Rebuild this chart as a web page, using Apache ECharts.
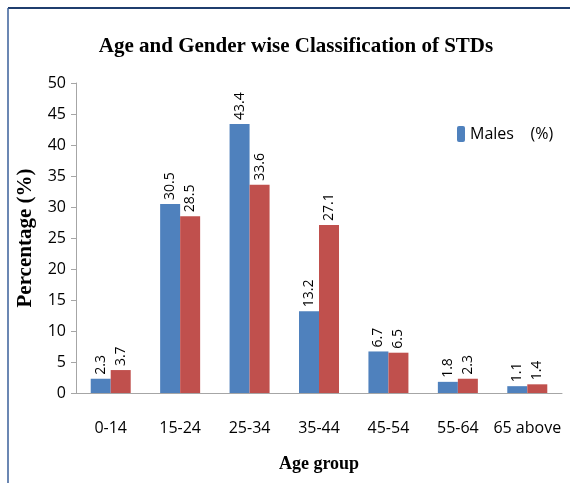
<!DOCTYPE html>
<html>
<head>
<meta charset="utf-8">
<script src="https://cdn.jsdelivr.net/npm/echarts@6/dist/echarts.min.js"></script>
<style>
  html, body { margin: 0; padding: 0; background: #fff; }
  #chart { width: 570px; height: 483px; }
</style>
</head>
<body>
<div id="chart"></div>
<script>
// age groups and percentages
const ageGroups = ['0-14', '15-24', '25-34', '35-44', '45-54', '55-64', '65 above']
const males = [2.3, 30.5, 43.4, 13.2, 6.7, 1.8, 1.1]
const females = [3.7, 28.5, 33.6, 27.1, 6.5, 2.3, 1.4]
const yTicks = { min: 0, max: 50, step: 5 }

const chart = echarts.init(document.getElementById('chart'))

const barLabel = {
  show: true,
  position: 'top',
  distance: 4,
  rotate: 90,
  align: 'left',
  verticalAlign: 'middle',
  color: '#000',
  fontFamily: 'Open Sans',
  fontSize: 14
}

chart.setOption({
  backgroundColor: '#fff',
  animation: false,
  title: {
    text: 'Age and Gender wise Classification of STDs',
    left: 291,
    textAlign: 'center',
    top: 31,
    textStyle: { fontFamily: 'Liberation Serif', fontWeight: 'bold', fontSize: 21, color: '#000' }
  },
  legend: {
    data: ['Males    (%)'],
    left: 452,
    top: 121,
    itemWidth: 8,
    itemHeight: 16,
    itemGap: 4,
    textStyle: { fontFamily: 'Open Sans', fontSize: 16, color: '#000' }
  },
  grid: { left: 76, right: 8, top: 83, bottom: 90 },
  xAxis: {
    type: 'category',
    data: ageGroups,
    name: 'Age group',
    nameLocation: 'middle',
    nameGap: 62,
    nameTextStyle: { fontFamily: 'Liberation Serif', fontWeight: 'bold', fontSize: 18, color: '#000' },
    axisLine: { lineStyle: { color: '#a6a6a6' } },
    axisTick: { show: false },
    axisLabel: { interval: 0, margin: 27, color: '#000', fontFamily: 'Open Sans', fontSize: 16 }
  },
  yAxis: {
    type: 'value',
    min: yTicks.min,
    max: yTicks.max,
    interval: yTicks.step,
    name: 'Percentage (%)',
    nameLocation: 'middle',
    nameRotate: 90,
    nameGap: 40,
    nameTextStyle: { fontFamily: 'Liberation Serif', fontWeight: 'bold', fontSize: 21, color: '#000' },
    axisLine: { show: true, lineStyle: { color: '#a6a6a6' } },
    axisTick: { show: true, length: 5, lineStyle: { color: '#a6a6a6' } },
    splitLine: { show: false },
    axisLabel: { margin: 10, color: '#000', fontFamily: 'Open Sans', fontSize: 16 }
  },
  series: [
    {
      name: 'Males    (%)',
      type: 'bar',
      data: males,
      barWidth: 20,
      barGap: '0%',
      itemStyle: { color: '#4f81bd' },
      label: barLabel
    },
    {
      name: 'Females    (%)',
      type: 'bar',
      data: females,
      barWidth: 20,
      itemStyle: { color: '#c0504d' },
      label: barLabel
    }
  ],
  graphic: [
    { type: 'line', shape: { x1: 8, y1: 8, x2: 570, y2: 8 }, style: { stroke: '#1f3d6e', lineWidth: 2 } },
    { type: 'line', shape: { x1: 8, y1: 8, x2: 8, y2: 483 }, style: { stroke: '#3a5f9a', lineWidth: 1.5 } }
  ]
})
</script>
</body>
</html>
